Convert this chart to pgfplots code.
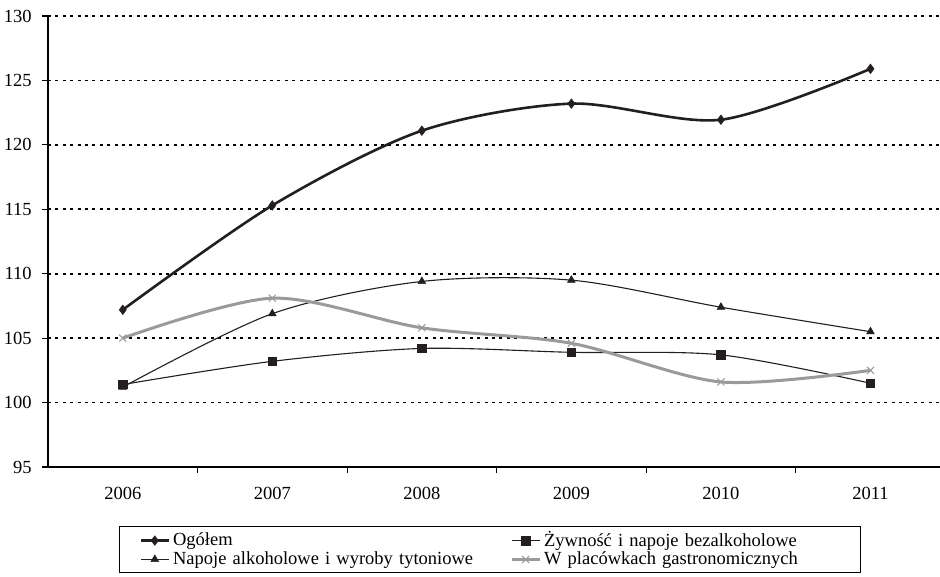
\documentclass[border=0pt]{standalone}
\usepackage{fontspec}
\setmainfont{Liberation Serif}
\usepackage{pgfplots}
\pgfplotsset{compat=1.18}
\definecolor{ink}{HTML}{231F20}
\definecolor{lgray}{HTML}{9A9A9A}
\begin{document}
\fontsize{18.5}{22}\selectfont
\begin{tikzpicture}
\begin{axis}[
  scale only axis, width=892pt, height=451pt,
  xmin=-0.5, xmax=5.465, ymin=95, ymax=130,
  axis lines=left, axis line style={-, line width=1.1pt, black},
  ytick={95,100,...,130},
  xtick={0,...,5}, xticklabels={2006,2007,2008,2009,2010,2011},
  minor xtick={0.5,1.5,2.5,3.5,4.5},
  tick align=outside, major tick length=6pt, minor tick length=6pt,
  every major x tick/.append style={draw=none},
  tick style={line width=1.1pt, black},
  ymajorgrids, grid style={black, line width=1.6pt, dash pattern=on 3pt off 4.4pt},
  /pgf/number format/assume math mode=true,
  tick label style={font=\fontsize{18.5}{22}\selectfont, black},
  yticklabel style={xshift=-4pt},
  xticklabel style={yshift=-8pt},
  legend columns=2,
  legend cell align=left,
  legend style={at={(0.0796,-0.131)}, anchor=north west, draw=black, line width=1pt,
    inner xsep=20pt, inner ysep=4pt,
    font=\fontsize{18.5}{22}\selectfont,
    nodes={inner xsep=3pt, inner ysep=1pt},
    /tikz/column 2/.append style={nodes={text width=302pt}},
    /tikz/column 4/.append style={nodes={text width=293pt}},
    /tikz/every even column/.append style={column sep=32pt}},
  legend image code/.code={\draw[mark repeat=2,mark phase=2] plot coordinates {(0pt,0pt) (14pt,0pt) (28pt,0pt)};},
]
\addplot[ink, line width=2.6pt, smooth, mark=diamond*, mark size=4.8pt, mark options={solid, fill=ink, line width=0.5pt}]
  coordinates {(0,107.2) (1,115.3) (2,121.1) (3,123.2) (4,121.95) (5,125.9)};
\addlegendentry{Ogółem}
\addplot[ink, line width=1.1pt, smooth, mark=square*, mark size=4.2pt, mark options={solid, fill=ink, line width=0.5pt}]
  coordinates {(0,101.4) (1,103.2) (2,104.2) (3,103.9) (4,103.7) (5,101.5)};
\addlegendentry{Żywność i napoje bezalkoholowe}
\addplot[ink, line width=1.1pt, smooth, mark=triangle*, mark size=4.5pt, mark options={solid, fill=ink, line width=0.5pt}]
  coordinates {(0,101.2) (1,106.9) (2,109.4) (3,109.5) (4,107.4) (5,105.5)};
\addlegendentry{Napoje alkoholowe i wyroby tytoniowe}
\addplot[lgray, line width=3pt, smooth, mark=x, mark size=5pt, mark options={solid, line width=1pt}]
  coordinates {(0,105.0) (1,108.1) (2,105.8) (3,104.6) (4,101.6) (5,102.5)};
\addlegendentry{W placówkach gastronomicznych}
\end{axis}
\pgfresetboundingbox
\path[use as bounding box] ([xshift=-48pt,yshift=-110pt]current axis.south west) rectangle ([yshift=16pt]current axis.north east);
\end{tikzpicture}
\end{document}
